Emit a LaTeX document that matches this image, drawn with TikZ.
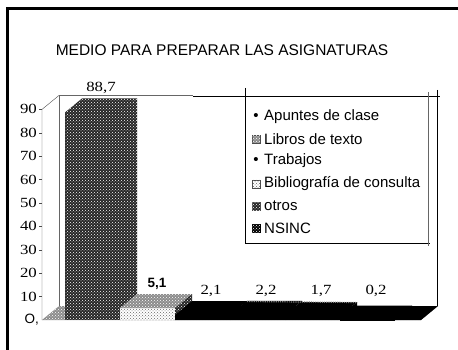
\documentclass[tikz,border=0pt]{standalone}
\usepackage{fontspec}
\setmainfont{Liberation Serif}
\setsansfont{Liberation Sans}
\newfontfamily\numfont[FakeStretch=1.2]{Liberation Serif}
\usetikzlibrary{patterns}

\tikzset{
    darkdots/.style={fill=black!85,postaction={pattern=crosshatch dots,pattern color=white}},
    middots/.style={fill=black!45,postaction={pattern=crosshatch dots,pattern color=white}},
    lightdots/.style={fill=white,postaction={pattern=crosshatch dots,pattern color=black!60}},
    solidblack/.style={fill=black},
    numlabel/.style={font=\numfont\fontsize{14}{14}\selectfont,inner sep=1pt},
    legtext/.style={font=\sffamily\fontsize{15}{15}\selectfont,anchor=west,inner sep=0pt},
    legmark/.style={draw=black!70,minimum size=8pt,inner sep=0pt},
}

% one 3d bar: left x, value, front, top, side
\newcommand{\barbox}[5]{%
    \pgfmathsetmacro{\bx}{#1+55}%
    \pgfmathsetmacro{\by}{320-#2*2.34}%
    \fill[#3] (#1,320) rectangle (\bx,\by);
    \fill[#4] (#1,\by) -- ++(17,-14) -- (\bx+17,\by-14) -- (\bx,\by) -- cycle;
    \fill[#5] (\bx,\by) -- ++(17,-14) -- (\bx+17,306) -- (\bx,320) -- cycle;
}

\begin{document}
\begin{tikzpicture}[x=1pt,y=-1pt]
    \useasboundingbox (0,0) rectangle (458,350);
    % frame
    \draw[line width=3pt] (7,350) -- (7,9) -- (458,9);
    \node[font=\sffamily\fontsize{15.5}{15.5}\selectfont] (title) at (222,50)
        {MEDIO PARA PREPARAR LAS ASIGNATURAS};

    % floor and walls
    \fill[middots] (42,320) -- (59,306) -- (438,306) -- (421,320) -- cycle;
    \fill[solidblack] (175,320) -- (192,306) -- (438,306) -- (421,320) -- cycle;
    \draw[black!60] (59,95.4) -- (59,306);
    \draw[black!60] (59,95.4) -- (193,95.4);
    \draw[semithick] (193,96.5) -- (440,96.5);
    \draw[semithick] (437,90) -- (437,306);

    % axis
    \draw[black!70] (42,320) -- (42,109.4) -- (59,95.4);
    \foreach \v in {10,20,...,90}{
        \draw[black!70] (39,320-\v*2.34) -- (42,320-\v*2.34);
        \node[numlabel,anchor=east] (t\v) at (38,320-\v*2.34) {\v};
    }
    \node[font=\sffamily\fontsize{13.5}{13.5}\selectfont,anchor=east,inner sep=1pt] (t0) at (40,320) {O,};

    % bars
    \barbox{65}{88.7}{darkdots}{darkdots}{darkdots}
    \barbox{120}{5.1}{lightdots}{middots}{darkdots}
    \barbox{175}{2.1}{solidblack}{solidblack}{solidblack}
    \barbox{230}{2.2}{solidblack}{solidblack}{solidblack}
    \barbox{285}{1.7}{solidblack}{solidblack}{solidblack}
    \barbox{340}{0.2}{solidblack}{solidblack}{solidblack}
    \draw[black!50,densely dotted,line width=1.2pt] (247,301.5) -- (357,302.5);

    % values
    \node[numlabel,anchor=south] (v1) at (101,95) {88,7};
    \node[font=\sffamily\bfseries\fontsize{13.5}{13.5}\selectfont,anchor=south,inner sep=1pt] (v2) at (157,291) {5,1};
    \node[numlabel,anchor=south] (v3) at (211,298) {2,1};
    \node[numlabel,anchor=south] (v4) at (266,298) {2,2};
    \node[numlabel,anchor=south] (v5) at (321,298) {1,7};
    \node[numlabel,anchor=south] (v6) at (376,298) {0,2};

    % legend
    \draw (245,88) -- (245,243) -- (430,243);
    \draw[black!60] (428,92) -- (428,246);
    \node[font=\sffamily\fontsize{15}{15}\selectfont,inner sep=0pt] (m1) at (256,117) {•};
    \node[legmark,middots] (m2) at (256,139) {};
    \node[font=\sffamily\fontsize{15}{15}\selectfont,inner sep=0pt] (m3) at (256,161) {•};
    \node[legmark,lightdots] (m4) at (256,184) {};
    \node[legmark,darkdots] (m5) at (256,206) {};
    \node[legmark,solidblack,draw=black,
          postaction={pattern=crosshatch dots,pattern color=white}] (m6) at (256,228) {};
    \node[legtext] (l1) at (264,117) {Apuntes de clase};
    \node[legtext] (l2) at (264,139) {Libros de texto};
    \node[legtext] (l3) at (264,161) {Trabajos};
    \node[legtext] (l4) at (264,184) {Bibliografía de consulta};
    \node[legtext] (l5) at (264,206) {otros};
    \node[legtext] (l6) at (264,228) {NSINC};
\end{tikzpicture}
\end{document}
